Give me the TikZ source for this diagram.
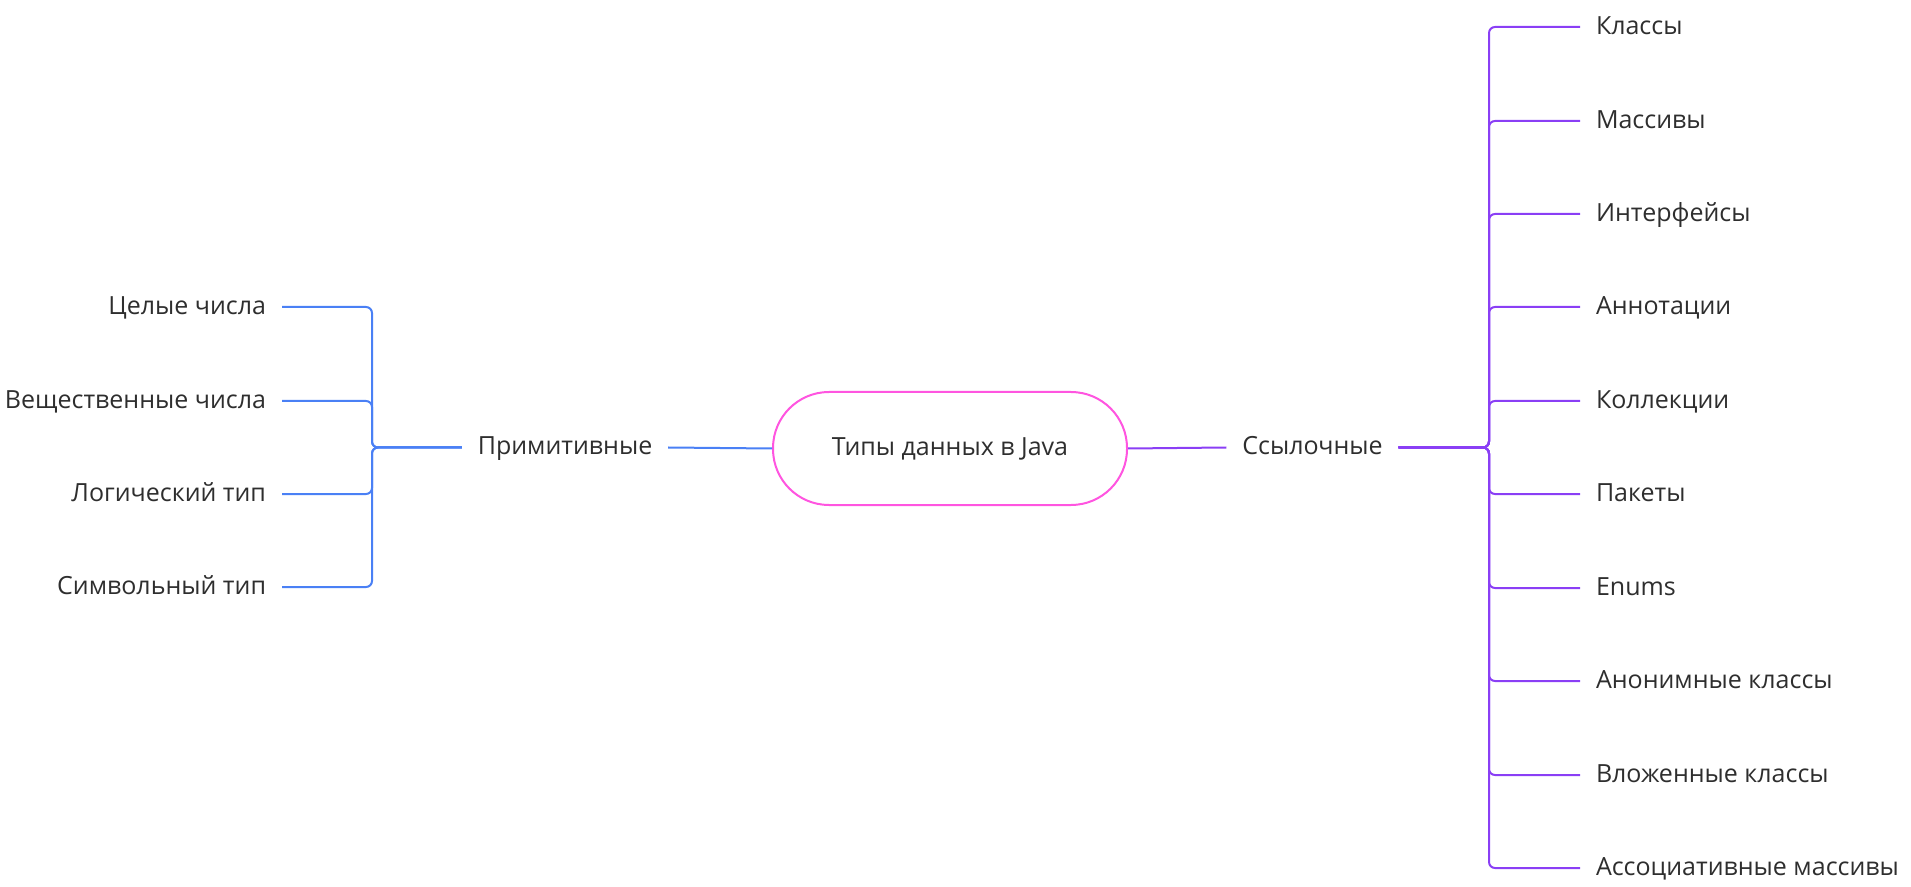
\documentclass[tikz,border=0pt]{standalone}
\usepackage{fontspec}
\setmainfont{Open Sans}
\definecolor{blueline}{HTML}{4A80F5}
\definecolor{purpline}{HTML}{8A3FF5}
\definecolor{pinkline}{HTML}{FF55E0}
\definecolor{txt}{HTML}{2E2E2E}
\begin{document}
\begin{tikzpicture}[x=0.5pt,y=-0.5pt,
  lbl/.style={font=\fontsize{12.5}{15}\selectfont, text=txt, inner xsep=0pt, inner ysep=0pt,
    text height=0.72em, text depth=0pt, outer xsep=8pt},
  blink/.style={draw=blueline, line width=1pt, rounded corners=3pt},
  plink/.style={draw=purpline, line width=1pt, rounded corners=3pt},
  rootbox/.style={draw=pinkline, line width=1pt, rounded corners=28pt, minimum width=177pt,
    minimum height=56.5pt, font=\fontsize{12.5}{15}\selectfont, text=txt, fill=white}]
\useasboundingbox (0,0) rectangle (1911,887);
\node[rootbox] (root) at (950,448.5) {Типы данных в Java};
\node[lbl] (prim) at (565,447.5) {Примитивные};
\node[lbl] (ref) at (1312.5,447.5) {Ссылочные};
\coordinate (lb) at (372,447.5);
\coordinate (rb) at (1489,447.5);
% left children
\foreach \n/\y/\t in {l1/307/Целые числа, l2/401/Вещественные числа, l3/494/Логический тип, l4/587/Символьный тип}
  \node[lbl, anchor=east] (\n) at (282,\y) {\t};
% right children
\foreach \n/\y/\t in {r1/27/Классы, r2/121/Массивы, r3/214/Интерфейсы, r4/307/Аннотации, r5/401/Коллекции, r6/494/Пакеты, r7/588/Enums, r8/681/Анонимные классы, r9/775/Вложенные классы, r10/868/Ассоциативные массивы}
  \node[lbl, anchor=west] (\n) at (1580,\y) {\t};
\draw[blink] (prim.east) -- (root.west);
\draw[plink] (root.east) -- (ref.west);
\foreach \n in {l1,l2,l3,l4}
  \draw[blink] (prim.west) -- (lb) -- (lb |- \n.east) -- (\n.east);
\foreach \n in {r1,r2,r3,r4,r5,r6,r7,r8,r9,r10}
  \draw[plink] (ref.east) -- (rb) -- (rb |- \n.west) -- (\n.west);
\end{tikzpicture}
\end{document}
